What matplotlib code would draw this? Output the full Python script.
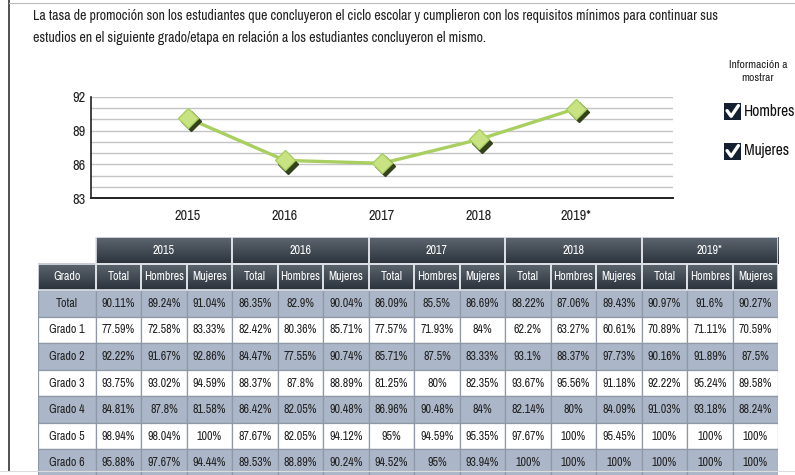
import matplotlib as mpl

mpl.use("Agg")

import matplotlib.font_manager as fm
import matplotlib.pyplot as plt
import numpy as np
from matplotlib.patches import Rectangle


def pick_font():
    # a condensed face looks closest to the original; fall back to Liberation Sans
    for f in fm.fontManager.ttflist:
        if "Narrow" in f.name or "Condensed" in f.name:
            return f.name, "normal"
    for f in fm.fontManager.ttflist:
        if f.stretch in ("condensed", "semi-condensed") and f.name == "DejaVu Sans":
            return f.name, "condensed"
    return "Liberation Sans", "normal"


FONT_NAME, FONT_STRETCH = pick_font()
plt.rcParams["font.family"] = [FONT_NAME, "DejaVu Sans"]
plt.rcParams["font.stretch"] = FONT_STRETCH

# ---- data ----
TITLE_LINES = [
    "La tasa de promoción son los estudiantes que concluyeron el ciclo escolar y cumplieron con los requisitos mínimos para continuar sus",
    "estudios en el siguiente grado/etapa en relación a los estudiantes concluyeron el mismo.",
]
years = ["2015", "2016", "2017", "2018", "2019*"]
line_values = [90.11, 86.35, 86.09, 88.22, 90.97]
y_ticks = [83, 86, 89, 92]

sub_headers = ["Total", "Hombres", "Mujeres"]
grados = ["Total", "Grado 1", "Grado 2", "Grado 3", "Grado 4", "Grado 5", "Grado 6"]
table_values = [
    ["90.11%", "89.24%", "91.04%", "86.35%", "82.9%", "90.04%", "86.09%", "85.5%", "86.69%", "88.22%", "87.06%", "89.43%", "90.97%", "91.6%", "90.27%"],
    ["77.59%", "72.58%", "83.33%", "82.42%", "80.36%", "85.71%", "77.57%", "71.93%", "84%", "62.2%", "63.27%", "60.61%", "70.89%", "71.11%", "70.59%"],
    ["92.22%", "91.67%", "92.86%", "84.47%", "77.55%", "90.74%", "85.71%", "87.5%", "83.33%", "93.1%", "88.37%", "97.73%", "90.16%", "91.89%", "87.5%"],
    ["93.75%", "93.02%", "94.59%", "88.37%", "87.8%", "88.89%", "81.25%", "80%", "82.35%", "93.67%", "95.56%", "91.18%", "92.22%", "95.24%", "89.58%"],
    ["84.81%", "87.8%", "81.58%", "86.42%", "82.05%", "90.48%", "86.96%", "90.48%", "84%", "82.14%", "80%", "84.09%", "91.03%", "93.18%", "88.24%"],
    ["98.94%", "98.04%", "100%", "87.67%", "82.05%", "94.12%", "95%", "94.59%", "95.35%", "97.67%", "100%", "95.45%", "100%", "100%", "100%"],
    ["95.88%", "97.67%", "94.44%", "89.53%", "88.89%", "90.24%", "94.52%", "95%", "93.94%", "100%", "100%", "100%", "100%", "100%", "100%"],
]
legend_items = ["Hombres", "Mujeres"]

W, H = 795, 475
fig = plt.figure(figsize=(W / 100, H / 100), dpi=100, facecolor="white")
renderer = fig.canvas.get_renderer()


def fx(px):
    return px / W


def fy(py):
    return 1 - py / H


def fit_size(text, target_px, max_size):
    t = fig.text(0, 0, text, fontsize=10)
    w = t.get_window_extent(renderer).width
    t.remove()
    return min(max_size, 10 * target_px / w)


# frame lines
fig.add_artist(plt.Line2D([fx(9), fx(9)], [fy(0), fy(471)], color="#333333", lw=1.2))
fig.add_artist(plt.Line2D([fx(9), 1], [fy(3), fy(3)], color="#bbbbbb", lw=0.8))
fig.add_artist(plt.Line2D([0, 1], [fy(471), fy(471)], color="#dddddd", lw=0.8))

title_size = fit_size(TITLE_LINES[0], 688, 12)
for i, line in enumerate(TITLE_LINES):
    fig.text(fx(33), fy(16 + i * 22), line, ha="left", va="center", fontsize=title_size, color="#222222")

# ---- line chart ----
ax = fig.add_axes([fx(91), fy(198), fx(673) - fx(91), fy(97) - fy(198)])
x = np.arange(len(years))
ax.set_xlim(-1, 5)
ax.set_ylim(83, 92)
for g in range(83, 93):
    ax.axhline(g, color="#c4c4c4", lw=1.0, zorder=0)
ax.plot(x, line_values, color="#a8cf60", lw=2.4, zorder=2)
ax.plot(x + 0.03, np.array(line_values) - 0.28, ls="none", marker="D", ms=10,
        color="#34421c", zorder=2.5)
ax.plot(x, line_values, ls="none", marker="D", ms=10, markerfacecolor="#c9e383",
        markeredgecolor="#a8cf60", markeredgewidth=1, zorder=3)
ax.set_yticks(y_ticks)
ax.set_xticks(x)
ax.set_xticklabels(years)
tick_size = fit_size("2015", 26, 12)
ax.tick_params(axis="both", length=0, labelsize=tick_size, colors="#222222")
ax.tick_params(axis="x", pad=8)
ax.tick_params(axis="y", pad=4)
for side in ["top", "right"]:
    ax.spines[side].set_visible(False)
ax.spines["left"].set_color("#222222")
ax.spines["bottom"].set_color("#222222")
ax.spines["left"].set_linewidth(1.2)
ax.spines["bottom"].set_linewidth(1.4)

# ---- legend / checkboxes ----
info_size = fit_size("Información a", 58, 9)
fig.text(fx(758), fy(60), "Información a\nmostrar", ha="center", va="top", fontsize=info_size,
         color="#222222", linespacing=1.35)
legend_size = fit_size("Hombres", 52, 14)
for i, name in enumerate(legend_items):
    cy = 111 + i * 40
    box = fig.add_axes([fx(724), fy(cy + 9), fx(17), fx(17) * W / H])
    box.set_xlim(0, 1)
    box.set_ylim(0, 1)
    box.axis("off")
    box.add_patch(Rectangle((0, 0), 1, 1, color="#142030"))
    box.plot([0.18, 0.42, 0.85], [0.55, 0.22, 0.85], color="white", lw=2.4, solid_capstyle="round")
    fig.text(fx(744), fy(cy), name, ha="left", va="center", fontsize=legend_size, color="#111111")

# ---- table ----
tax = fig.add_axes([fx(38), fy(476), fx(778) - fx(38), fy(237) - fy(476)])
grado_w = 1.27
n_cols = len(years) * len(sub_headers)
n_rows = 2 + len(grados)
tax.set_xlim(0, grado_w + n_cols)
tax.set_ylim(n_rows, 0)
tax.axis("off")

# header gradient
grad = np.linspace(0, 1, 50).reshape(-1, 1)
header_cmap = mpl.colors.LinearSegmentedColormap.from_list("hdr", ["#5d6670", "#2b323b"])
tax.imshow(grad, cmap=header_cmap, aspect="auto", extent=(grado_w, grado_w + n_cols, 1, 0), zorder=0)
tax.imshow(grad, cmap=header_cmap, aspect="auto", extent=(0, grado_w + n_cols, 2, 1), zorder=0)

cell_size = fit_size("Hombres", 40, 11)
txt = dict(ha="center", va="center", fontsize=cell_size, zorder=5)
for j, yr in enumerate(years):
    x0 = grado_w + j * 3
    tax.add_patch(Rectangle((x0, 0), 3, 1, fill=False, edgecolor="#dfe3e8", lw=1.2, zorder=3))
    tax.text(x0 + 1.5, 0.5, yr, color="white", **txt)
    for k, sh in enumerate(sub_headers):
        tax.add_patch(Rectangle((x0 + k, 1), 1, 1, fill=False, edgecolor="#dfe3e8", lw=1.2, zorder=3))
        tax.text(x0 + k + 0.5, 1.5, sh, color="white", **txt)
tax.add_patch(Rectangle((0, 1), grado_w, 1, fill=False, edgecolor="#dfe3e8", lw=1.2, zorder=3))
tax.text(grado_w / 2, 1.5, "Grado", color="white", **txt)

for r, (g, vals) in enumerate(zip(grados, table_values)):
    yy = 2 + r
    bg = "#abb6c8" if r % 2 == 0 else "white"
    tax.add_patch(Rectangle((0, yy), grado_w, 1, facecolor=bg, edgecolor="#8e98a6", lw=0.9, zorder=1))
    tax.text(grado_w / 2, yy + 0.5, g, color="#222222", **txt)
    for c, v in enumerate(vals):
        tax.add_patch(Rectangle((grado_w + c, yy), 1, 1, facecolor=bg, edgecolor="#8e98a6", lw=0.9, zorder=1))
        tax.text(grado_w + c + 0.5, yy + 0.5, v, color="#222222", **txt)

fig.savefig("out.png", dpi=100, facecolor="white")
